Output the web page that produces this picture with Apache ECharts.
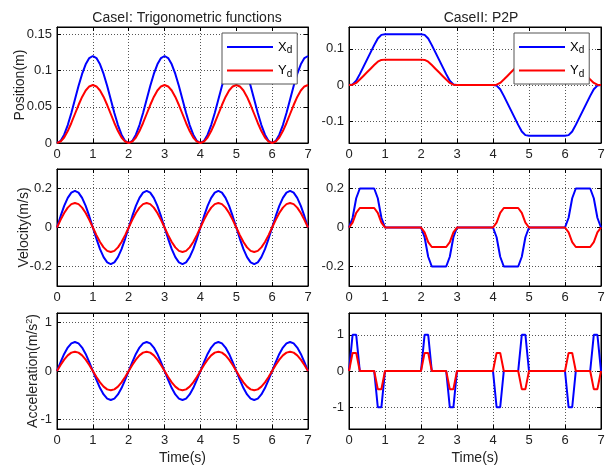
<!DOCTYPE html>
<html>
<head>
<meta charset="utf-8">
<script src="https://cdn.jsdelivr.net/npm/echarts@6/dist/echarts.min.js"></script>
<style>
  html, body { margin: 0; padding: 0; background: #fff; }
  #chart { width: 616px; height: 466px; }
</style>
</head>
<body>
<div id="chart"></div>
<script>
// Sampling instants (s)
const time = [
  0,0.1,0.2,0.3,0.4,0.5,0.6,0.7,0.8,0.9,
  1,1.1,1.2,1.3,1.4,1.5,1.6,1.7,1.8,1.9,
  2,2.1,2.2,2.3,2.4,2.5,2.6,2.7,2.8,2.9,
  3,3.1,3.2,3.3,3.4,3.5,3.6,3.7,3.8,3.9,
  4,4.1,4.2,4.3,4.4,4.5,4.6,4.7,4.8,4.9,
  5,5.1,5.2,5.3,5.4,5.5,5.6,5.7,5.8,5.9,
  6,6.1,6.2,6.3,6.4,6.5,6.6,6.7,6.8,6.9,
  7
];

// Case I: trigonometric reference
const posX1 = [
  0,0.0029,0.0115,0.0247,0.0415,0.06,0.0785,0.0953,0.1085,0.1171,
  0.12,0.1171,0.1085,0.0953,0.0785,0.06,0.0415,0.0247,0.0115,0.0029,
  0,0.0029,0.0115,0.0247,0.0415,0.06,0.0785,0.0953,0.1085,0.1171,
  0.12,0.1171,0.1085,0.0953,0.0785,0.06,0.0415,0.0247,0.0115,0.0029,
  0,0.0029,0.0115,0.0247,0.0415,0.06,0.0785,0.0953,0.1085,0.1171,
  0.12,0.1171,0.1085,0.0953,0.0785,0.06,0.0415,0.0247,0.0115,0.0029,
  0,0.0029,0.0115,0.0247,0.0415,0.06,0.0785,0.0953,0.1085,0.1171,
  0.12
];
const posY1 = [
  0,0.002,0.0076,0.0165,0.0276,0.04,0.0524,0.0635,0.0724,0.078,
  0.08,0.078,0.0724,0.0635,0.0524,0.04,0.0276,0.0165,0.0076,0.002,
  0,0.002,0.0076,0.0165,0.0276,0.04,0.0524,0.0635,0.0724,0.078,
  0.08,0.078,0.0724,0.0635,0.0524,0.04,0.0276,0.0165,0.0076,0.002,
  0,0.002,0.0076,0.0165,0.0276,0.04,0.0524,0.0635,0.0724,0.078,
  0.08,0.078,0.0724,0.0635,0.0524,0.04,0.0276,0.0165,0.0076,0.002,
  0,0.002,0.0076,0.0165,0.0276,0.04,0.0524,0.0635,0.0724,0.078,
  0.08
];
const velX1 = [
  0,0.058,0.111,0.152,0.179,0.188,0.179,0.152,0.111,0.058,
  0,-0.058,-0.111,-0.152,-0.179,-0.188,-0.179,-0.152,-0.111,-0.058,
  0,0.058,0.111,0.152,0.179,0.188,0.179,0.152,0.111,0.058,
  0,-0.058,-0.111,-0.152,-0.179,-0.188,-0.179,-0.152,-0.111,-0.058,
  0,0.058,0.111,0.152,0.179,0.188,0.179,0.152,0.111,0.058,
  0,-0.058,-0.111,-0.152,-0.179,-0.188,-0.179,-0.152,-0.111,-0.058,
  0,0.058,0.111,0.152,0.179,0.188,0.179,0.152,0.111,0.058,
  0
];
const velY1 = [
  0,0.039,0.074,0.102,0.12,0.126,0.12,0.102,0.074,0.039,
  0,-0.039,-0.074,-0.102,-0.12,-0.126,-0.12,-0.102,-0.074,-0.039,
  0,0.039,0.074,0.102,0.12,0.126,0.12,0.102,0.074,0.039,
  0,-0.039,-0.074,-0.102,-0.12,-0.126,-0.12,-0.102,-0.074,-0.039,
  0,0.039,0.074,0.102,0.12,0.126,0.12,0.102,0.074,0.039,
  0,-0.039,-0.074,-0.102,-0.12,-0.126,-0.12,-0.102,-0.074,-0.039,
  0,0.039,0.074,0.102,0.12,0.126,0.12,0.102,0.074,0.039,
  0
];
const accX1 = [
  0,0.185,0.353,0.485,0.571,0.6,0.571,0.485,0.353,0.185,
  0,-0.185,-0.353,-0.485,-0.571,-0.6,-0.571,-0.485,-0.353,-0.185,
  0,0.185,0.353,0.485,0.571,0.6,0.571,0.485,0.353,0.185,
  0,-0.185,-0.353,-0.485,-0.571,-0.6,-0.571,-0.485,-0.353,-0.185,
  0,0.185,0.353,0.485,0.571,0.6,0.571,0.485,0.353,0.185,
  0,-0.185,-0.353,-0.485,-0.571,-0.6,-0.571,-0.485,-0.353,-0.185,
  0,0.185,0.353,0.485,0.571,0.6,0.571,0.485,0.353,0.185,
  0
];
const accY1 = [
  0,0.124,0.235,0.324,0.38,0.4,0.38,0.324,0.235,0.124,
  0,-0.124,-0.235,-0.324,-0.38,-0.4,-0.38,-0.324,-0.235,-0.124,
  0,0.124,0.235,0.324,0.38,0.4,0.38,0.324,0.235,0.124,
  0,-0.124,-0.235,-0.324,-0.38,-0.4,-0.38,-0.324,-0.235,-0.124,
  0,0.124,0.235,0.324,0.38,0.4,0.38,0.324,0.235,0.124,
  0,-0.124,-0.235,-0.324,-0.38,-0.4,-0.38,-0.324,-0.235,-0.124,
  0,0.124,0.235,0.324,0.38,0.4,0.38,0.324,0.235,0.124,
  0
];

// Case II: point-to-point moves
const posX2 = [
  0,0.0017,0.0117,0.03,0.05,0.07,0.09,0.11,0.1283,0.1383,0.14,
  0.14,0.14,0.14,0.14,0.14,0.14,0.14,0.14,0.14,0.14,
  0.1383,0.1283,0.11,0.09,0.07,0.05,0.03,0.0117,0.0017,0,
  0,0,0,0,0,0,0,0,0,0,
  -0.0017,-0.0117,-0.03,-0.05,-0.07,-0.09,-0.11,-0.1283,-0.1383,-0.14,
  -0.14,-0.14,-0.14,-0.14,-0.14,-0.14,-0.14,-0.14,-0.14,-0.14,
  -0.1383,-0.1283,-0.11,-0.09,-0.07,-0.05,-0.03,-0.0117,-0.0017,0
];
const posY2 = [
  0,0.0008,0.0058,0.015,0.025,0.035,0.045,0.055,0.0642,0.0692,0.07,
  0.07,0.07,0.07,0.07,0.07,0.07,0.07,0.07,0.07,0.07,
  0.0692,0.0642,0.055,0.045,0.035,0.025,0.015,0.0058,0.0008,0,
  0,0,0,0,0,0,0,0,0,0,
  0.0008,0.0058,0.015,0.025,0.035,0.045,0.055,0.0642,0.0692,0.07,
  0.07,0.07,0.07,0.07,0.07,0.07,0.07,0.07,0.07,0.07,
  0.0692,0.0642,0.055,0.045,0.035,0.025,0.015,0.0058,0.0008,0
];
const velX2 = [
  0,0.05,0.15,0.2,0.2,0.2,0.2,0.2,0.15,0.05,0,
  0,0,0,0,0,0,0,0,0,0,
  -0.05,-0.15,-0.2,-0.2,-0.2,-0.2,-0.2,-0.15,-0.05,0,
  0,0,0,0,0,0,0,0,0,0,
  -0.05,-0.15,-0.2,-0.2,-0.2,-0.2,-0.2,-0.15,-0.05,0,
  0,0,0,0,0,0,0,0,0,0,
  0.05,0.15,0.2,0.2,0.2,0.2,0.2,0.15,0.05,0
];
const velY2 = [
  0,0.025,0.075,0.1,0.1,0.1,0.1,0.1,0.075,0.025,0,
  0,0,0,0,0,0,0,0,0,0,
  -0.025,-0.075,-0.1,-0.1,-0.1,-0.1,-0.1,-0.075,-0.025,0,
  0,0,0,0,0,0,0,0,0,0,
  0.025,0.075,0.1,0.1,0.1,0.1,0.1,0.075,0.025,0,
  0,0,0,0,0,0,0,0,0,0,
  -0.025,-0.075,-0.1,-0.1,-0.1,-0.1,-0.1,-0.075,-0.025,0
];
const accX2 = [
  0,1,1,0,0,0,0,0,-1,-1,0,
  0,0,0,0,0,0,0,0,0,0,
  1,1,0,0,0,0,0,-1,-1,0,
  0,0,0,0,0,0,0,0,0,0,
  -1,-1,0,0,0,0,0,1,1,0,
  0,0,0,0,0,0,0,0,0,0,
  -1,-1,0,0,0,0,0,1,1,0
];
const accY2 = [
  0,0.5,0.5,0,0,0,0,0,-0.5,-0.5,0,
  0,0,0,0,0,0,0,0,0,0,
  0.5,0.5,0,0,0,0,0,-0.5,-0.5,0,
  0,0,0,0,0,0,0,0,0,0,
  0.5,0.5,0,0,0,0,0,-0.5,-0.5,0,
  0,0,0,0,0,0,0,0,0,0,
  0.5,0.5,0,0,0,0,0,-0.5,-0.5,0
];

// Tick labels
const timeTicks = [0, 1, 2, 3, 4, 5, 6, 7];
const posTicks1 = [0, 0.05, 0.1, 0.15];
const posTicks2 = [-0.1, 0, 0.1];
const velTicks = [-0.2, 0, 0.2];
const accTicks = [-1, 0, 1];

const titles = ['CaseI: Trigonometric functions', 'CaseII: P2P'];
const seriesNames = ['Xd', 'Yd'];
const yNames = ['Position(m)', 'Velocity(m/s)', 'Acceleration(m/s{sup|2})'];
const xName = 'Time(s)';

const FONT = '"Liberation Sans", Arial, Helvetica, sans-serif';
const BLUE = '#0000ff';
const RED = '#ff0000';

// Panel layout: columns / rows in pixels
const cols = [{ left: 57, width: 251 }, { left: 349, width: 252 }];
const rows = [{ top: 27, height: 116 }, { top: 169, height: 117 }, { top: 313, height: 116 }];

// Per-panel y-range, ticks and data (row-major: row*2+col)
const panels = [
  { min: 0, max: 0.16, ticks: posTicks1, x: posX1, y: posY1, name: yNames[0], gap: 30 },
  { min: -0.16, max: 0.16, ticks: posTicks2, x: posX2, y: posY2 },
  { min: -0.3, max: 0.3, ticks: velTicks, x: velX1, y: velY1, name: yNames[1], gap: 26 },
  { min: -0.3, max: 0.3, ticks: velTicks, x: velX2, y: velY2 },
  { min: -1.2, max: 1.2, ticks: accTicks, x: accX1, y: accY1, name: yNames[2], gap: 15 },
  { min: -1.6, max: 1.6, ticks: accTicks, x: accX2, y: accY2 }
];

const pairs = (vals) => time.map((t, i) => [t, vals[i]]);

const grid = [], xAxis = [], yAxis = [], series = [];
const mirrorX = [], mirrorY = [];

panels.forEach((p, i) => {
  const r = Math.floor(i / 2), c = i % 2;
  grid.push({
    left: cols[c].left, width: cols[c].width,
    top: rows[r].top, height: rows[r].height,
    show: true, borderColor: '#000', borderWidth: 1, backgroundColor: '#fff'
  });
  xAxis.push({
    gridIndex: i, type: 'value', min: 0, max: 7, interval: 1,
    axisLine: { show: true, onZero: false, lineStyle: { color: '#000', width: 1 } },
    axisTick: { show: true, inside: true, length: 4, customValues: timeTicks, lineStyle: { color: '#000' } },
    axisLabel: { color: '#222', fontSize: 13, fontFamily: FONT, margin: 5, customValues: timeTicks },
    splitLine: { show: true, lineStyle: { color: '#555', type: [1, 2], width: 1 } },
    name: r === 2 ? xName : '', nameLocation: 'middle', nameGap: 22, nameMoveOverlap: false,
    nameTextStyle: { color: '#222', fontSize: 14, fontFamily: FONT }
  });
  mirrorX.push({
    gridIndex: i, type: 'value', min: 0, max: 7, interval: 1, position: 'top',
    axisLine: { show: true, onZero: false, lineStyle: { color: '#000', width: 1 } },
    axisTick: { show: true, inside: true, length: 4, lineStyle: { color: '#000' } },
    axisLabel: { show: false }, splitLine: { show: false }
  });
  yAxis.push({
    gridIndex: i, type: 'value', min: p.min, max: p.max,
    axisLine: { show: true, onZero: false, lineStyle: { color: '#000', width: 1 } },
    axisTick: { show: true, inside: true, length: 4, customValues: p.ticks, lineStyle: { color: '#000' } },
    axisLabel: { color: '#222', fontSize: 13, fontFamily: FONT, margin: 5, customValues: p.ticks },
    splitLine: { show: true, lineStyle: { color: '#555', type: [1, 2], width: 1 } },
    name: p.name || '', nameLocation: 'middle', nameGap: p.gap || 0, nameMoveOverlap: false,
    nameTextStyle: {
      color: '#222', fontSize: 14, fontFamily: FONT,
      rich: { sup: { fontSize: 9, fontFamily: FONT, color: '#222', padding: [0, 0, 8, 0] } }
    }
  });
  mirrorY.push({
    gridIndex: i, type: 'value', min: p.min, max: p.max, position: 'right',
    axisLine: { show: true, onZero: false, lineStyle: { color: '#000', width: 1 } },
    axisTick: { show: true, inside: true, length: 4, customValues: p.ticks, lineStyle: { color: '#000' } },
    axisLabel: { show: false }, splitLine: { show: false }
  });
  [[seriesNames[0], p.x, BLUE], [seriesNames[1], p.y, RED]].forEach(([nm, vals, col]) => {
    series.push({
      name: nm, type: 'line', xAxisIndex: i, yAxisIndex: i,
      data: pairs(vals), showSymbol: false, symbol: 'none',
      lineStyle: { color: col, width: 2 }, itemStyle: { color: col },
      silent: true, animation: false, z: nm === 'Yd' ? 3 : 2
    });
  });
});

const legendBase = (left) => ({
  data: seriesNames, orient: 'vertical', left: left, top: 33,
  icon: 'rect', itemWidth: 46, itemHeight: 2, itemGap: 7, itemTextGap: 5,
  padding: [6, 5, 5, 5],
  backgroundColor: '#fff', borderColor: '#555', borderWidth: 1,
  selectedMode: false,
  formatter: (n) => n.charAt(0) + '{sub|' + n.slice(1) + '}',
  textStyle: {
    color: '#000', fontSize: 13, fontFamily: FONT, lineHeight: 16,
    rich: { sub: { fontSize: 10, fontFamily: FONT, color: '#000', padding: [7, 0, 0, 0] } }
  }
});

const option = {
  backgroundColor: '#fff',
  animation: false,
  title: [
    { text: titles[0], left: 182, top: 6, textAlign: 'center',
      textStyle: { fontSize: 14, fontWeight: 'normal', color: '#222', fontFamily: FONT } },
    { text: titles[1], left: 476, top: 6, textAlign: 'center',
      textStyle: { fontSize: 14, fontWeight: 'normal', color: '#222', fontFamily: FONT } }
  ],
  legend: [legendBase(222), legendBase(514)],
  grid: grid,
  xAxis: xAxis.concat(mirrorX),
  yAxis: yAxis.concat(mirrorY),
  series: series
};

const chart = echarts.init(document.getElementById('chart'), null, { renderer: 'canvas' });
chart.setOption(option);
</script>
</body>
</html>
